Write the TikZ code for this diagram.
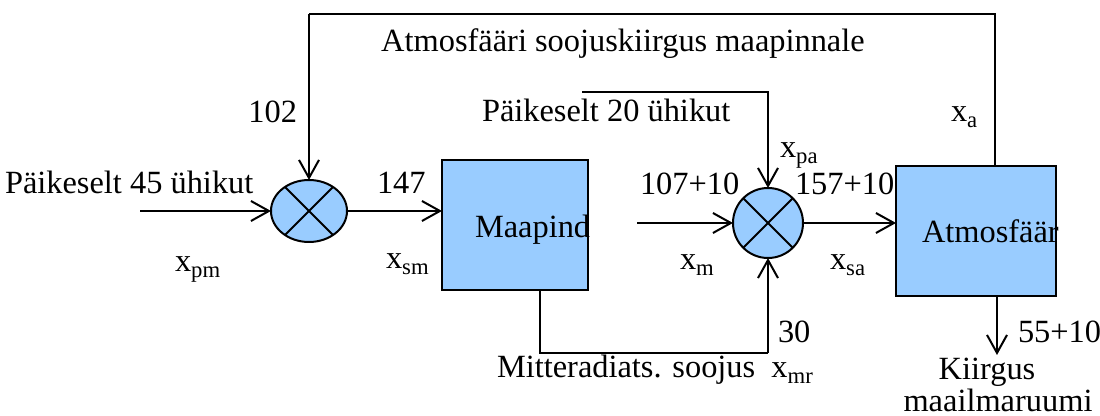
\documentclass[tikz,border=0pt]{standalone}
\usepackage{fontspec}
\setmainfont{Liberation Serif}
\usetikzlibrary{arrows.meta,shapes.geometric}
\definecolor{blockblue}{RGB}{153,204,255}
\newcommand{\sub}[2]{#1\textsubscript{#2}}
\begin{document}
\begin{tikzpicture}[x=0.5pt,y=-0.5pt,
  line width=1pt,
  every node/.style={font=\fontsize{16.2}{19}\selectfont, inner sep=0pt, outer sep=0pt},
  flow/.style={-{Straight Barb[length=9pt,width=10pt,line width=1pt]}},
  block/.style={draw, fill=blockblue, rectangle},
  summer/.style={draw, fill=blockblue, ellipse},
  lbl/.style={anchor=base west},
]
\useasboundingbox (0,0) rectangle (1100,416);

% blocks
\node[block, minimum width=73pt, minimum height=65pt] (maa) at (515,225) {};
\node[anchor=base west] (maatxt) at (475,238) {Maapind};
\node[block, minimum width=80pt, minimum height=65pt] (atm) at (976,231) {};
\node[anchor=base west] (atmtxt) at (922,243) {Atmosfäär};

% summing junctions
\node[summer, minimum width=38pt, minimum height=31pt] (s1) at (309,211) {};
\draw (s1.45) -- (s1.225) (s1.135) -- (s1.315);
\node[summer, minimum width=35pt, minimum height=35pt] (s2) at (768,223) {};
\draw (s2.45) -- (s2.225) (s2.135) -- (s2.315);

% free ends of the inputs
\coordinate (in1) at (140,211);
\coordinate (in2) at (637,223);
\coordinate (sun2) at (582,92);
\coordinate (c2top) at (768,92);
\coordinate (atmup) at (995,166);
\coordinate (atmdn) at (997,296);
\coordinate (out) at (997,355);
\coordinate (mr1) at (540,353);
\coordinate (mr2) at (768,353);
\coordinate (fb1) at (995,14);
\coordinate (fb2) at (309,14);

% connectors
\draw[flow] (in1) -- (s1.west);
\draw[flow] (s1.east) -- (s1.east -| maa.west);
\draw[flow] (in2) -- (s2.west);
\draw[flow] (s2.east) -- (s2.east -| atm.west);
\draw[flow] (sun2) -- (c2top) -- (s2.north);
\draw (maa.south -| mr1) -- (mr1) -- (mr2);
\draw[flow] (mr2) -- (s2.south);
\draw (atmup) -- (fb1) -- (fb2);
\draw[flow] (fb2) -- (s1.north);
\draw[flow] (atmdn) -- (out);

% labels
\node[anchor=base] (ltop) at (623,52) {Atmosfääri soojuskiirgus maapinnale};
\node[anchor=base east] (l102) at (297,123) {102};
\node[lbl] (lsun20) at (482,122) {Päikeselt 20 ühikut};
\node[lbl] (lxa) at (951,122) {\sub{x}{a}};
\node[lbl] (lxpa) at (780,158) {\sub{x}{pa}};
\node[lbl] (lsun45) at (5,194) {Päikeselt 45 ühikut};
\node[lbl] (l147) at (377,194) {147};
\node[lbl] (l107) at (640,195) {107+10};
\node[lbl] (l157) at (795,195) {157+10};
\node[lbl] (lxpm) at (175,272) {\sub{x}{pm}};
\node[lbl] (lxsm) at (386,269) {\sub{x}{sm}};
\node[lbl] (lxm) at (680,270) {\sub{x}{m}};
\node[lbl] (lxsa) at (830,270) {\sub{x}{sa}};
\node[lbl] (l30) at (778,343) {30};
\node[lbl] (l55) at (1018,343) {55+10};
\node[lbl] (lmr) at (497,378) {Mitteradiats. soojus\hspace{0.5em}\sub{x}{mr}};
\node[anchor=base] (lk1) at (987,380) {Kiirgus};
\node[anchor=base] (lk2) at (998,412) {maailmaruumi};
\end{tikzpicture}
\end{document}
